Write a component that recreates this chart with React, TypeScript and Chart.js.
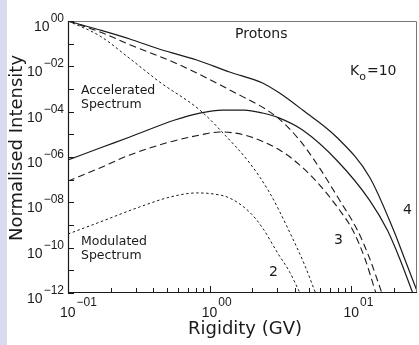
import React, { useEffect, useRef } from "react";
import { Chart, registerables } from "chart.js";
Chart.register(...registerables);

// Rigidity (GV) and normalised intensity
const acc4Rigidity = [0.1, 0.168, 0.273, 0.45, 0.81, 1.38, 2.36, 3.11, 4.52, 7.84, 13.4, 19.8, 23.6, 29.2];
const acc4Intensity = [1, 0.4, 0.16, 0.055, 0.0191, 5.6e-3, 1.85e-3, 6.6e-4, 1.18e-4, 7.6e-6, 1.32e-7, 6.0e-10, 3.5e-11, 1.1e-12];
const mod4Rigidity = [0.1, 0.168, 0.273, 0.567, 0.851, 1.23, 1.76, 2.36, 3.11, 4.52, 7.84, 13.4, 17.9, 21.8, 26.9];
const mod4Intensity = [7.4e-7, 2.5e-6, 7.6e-6, 4.3e-5, 8.7e-5, 1.18e-4, 1.18e-4, 8.7e-5, 5.2e-5, 1.55e-5, 7.4e-7, 1.26e-8, 6.0e-10, 3.5e-11, 1.1e-12];

const acc3Rigidity = [0.1, 0.168, 0.273, 0.615, 1.38, 2.97, 4.3, 5.95, 8.23, 11.0, 13.4, 16.3];
const acc3Intensity = [1, 0.33, 0.09, 0.0115, 9.1e-4, 5.8e-5, 5.6e-6, 3.3e-7, 1.26e-8, 6.0e-10, 3.5e-11, 1.1e-12];
const mod3Rigidity = [0.1, 0.168, 0.273, 0.523, 0.851, 1.18, 1.76, 3.11, 4.3, 5.95, 8.23, 10.2, 12.4, 14.8];
const mod3Intensity = [8.7e-8, 3.3e-7, 1.23e-6, 4.6e-6, 9.3e-6, 1.27e-5, 9.3e-6, 2.04e-6, 4.5e-7, 5.9e-8, 4.6e-9, 6.0e-10, 3.5e-11, 1.1e-12];

const acc2Rigidity = [0.1, 0.168, 0.273, 0.445, 0.851, 1.28, 1.91, 2.65, 3.66, 4.67, 5.58];
const acc2Intensity = [1, 0.218, 0.022, 2.0e-3, 1.18e-4, 9.3e-6, 5.5e-7, 2.6e-8, 4.9e-10, 1.74e-11, 1e-12];
const mod2Rigidity = [0.1, 0.168, 0.321, 0.523, 0.81, 1.08, 1.38, 1.91, 2.36, 3.01, 3.66, 4.3];
const mod2Intensity = [4.0e-10, 1.35e-9, 6.3e-9, 1.7e-8, 2.6e-8, 2.3e-8, 1.55e-8, 3.7e-9, 7.4e-10, 5.9e-11, 8.5e-12, 1.1e-12];

const yTickExponents = [0, -1, -2, -3, -4, -5, -6, -7, -8, -9, -10, -11, -12];
const yLabelExponents = [0, -2, -4, -6, -8, -10, -12];
const xLabelExponents = [-1, 0, 1];

const FONT = "'DejaVu Sans', sans-serif";
const TICKFONT = "'Liberation Sans', Arial, sans-serif";
const INK = "#1a1a1a";

function pts(xs: number[], ys: number[]) {
  return xs.map((x, i) => ({ x, y: ys[i] }));
}

function expText(e: number) {
  const a = Math.abs(e).toString().padStart(2, "0");
  return (e < 0 ? "\u2212" : "") + a;
}

const decorPlugin = {
  id: "decor",
  afterDraw(chart: any) {
    const { ctx, chartArea } = chart;
    const xs = chart.scales.x;
    const ys = chart.scales.y;
    const { left, right, top, bottom } = chartArea;
    ctx.save();
    // frame
    ctx.lineWidth = 1;
    ctx.strokeStyle = "#777";
    ctx.beginPath();
    ctx.moveTo(left, top + 0.5);
    ctx.lineTo(right - 0.5, top + 0.5);
    ctx.lineTo(right - 0.5, bottom);
    ctx.stroke();
    ctx.strokeStyle = INK;
    ctx.lineWidth = 1.2;
    ctx.beginPath();
    ctx.moveTo(left + 0.5, top);
    ctx.lineTo(left + 0.5, bottom - 0.5);
    ctx.lineTo(right, bottom - 0.5);
    ctx.stroke();
    // y ticks
    ctx.lineWidth = 1;
    ctx.beginPath();
    yTickExponents.forEach((e) => {
      const y = Math.round(ys.getPixelForValue(Math.pow(10, e))) + 0.5;
      ctx.moveTo(left, y);
      ctx.lineTo(left + 6, y);
    });
    // x ticks
    for (let d = -1; d <= 1; d++) {
      for (let m = 1; m <= 9; m++) {
        const v = m * Math.pow(10, d);
        if (v < xs.min || v > xs.max) continue;
        const x = Math.round(xs.getPixelForValue(v)) + 0.5;
        ctx.moveTo(x, bottom);
        ctx.lineTo(x, bottom - (m === 1 ? 7 : 5));
      }
    }
    ctx.stroke();
    // y labels
    ctx.fillStyle = INK;
    yLabelExponents.forEach((e) => {
      const y = ys.getPixelForValue(Math.pow(10, e));
      const sup = expText(e);
      ctx.font = `12px ${TICKFONT}`;
      const sw = ctx.measureText(sup).width;
      ctx.textAlign = "right";
      ctx.textBaseline = "alphabetic";
      ctx.fillText(sup, 64, y + 1);
      ctx.font = `14px ${TICKFONT}`;
      ctx.fillText("10", 64 - sw - 1, y + 10);
    });
    // x labels
    xLabelExponents.forEach((e) => {
      const x = xs.getPixelForValue(Math.pow(10, e));
      ctx.textAlign = "left";
      ctx.font = `14px ${TICKFONT}`;
      const w = ctx.measureText("10").width;
      const x0 = x - 8;
      ctx.fillText("10", x0, bottom + 24);
      ctx.font = `12px ${TICKFONT}`;
      ctx.fillText(expText(e), x0 + w + 1, bottom + 13);
    });
    // axis titles
    ctx.font = `18px ${FONT}`;
    ctx.textAlign = "center";
    ctx.fillText("Rigidity (GV)", 245, 334);
    ctx.save();
    ctx.translate(22, 148);
    ctx.rotate(-Math.PI / 2);
    ctx.fillText("Normalised Intensity", 0, 0);
    ctx.restore();
    // annotations
    ctx.textAlign = "left";
    ctx.font = `14px ${FONT}`;
    ctx.fillText("Protons", 235, 38);
    ctx.fillText("K", 350, 75);
    const kw = ctx.measureText("K").width;
    ctx.font = `11px ${FONT}`;
    ctx.fillText("o", 350 + kw, 80);
    const ow = ctx.measureText("o").width;
    ctx.font = `14px ${FONT}`;
    ctx.fillText("=10", 350 + kw + ow + 1, 75);
    ctx.font = `12.5px ${FONT}`;
    ctx.fillText("Accelerated", 81, 94);
    ctx.fillText("Spectrum", 81, 108);
    ctx.fillText("Modulated", 81, 245);
    ctx.fillText("Spectrum", 81, 259);
    ctx.font = `14px ${FONT}`;
    ctx.fillText("2", 269, 276);
    ctx.fillText("3", 334, 244);
    ctx.fillText("4", 403, 214);
    ctx.restore();
  },
};

export default function App() {
  const ref = useRef<HTMLCanvasElement | null>(null);
  useEffect(() => {
    document.body.style.margin = "0";
    const canvas = ref.current;
    if (!canvas) return;
    const solid = { borderColor: INK, borderWidth: 1.2, borderDash: [] as number[] };
    const longDash = { borderColor: INK, borderWidth: 1.1, borderDash: [7, 4] };
    const shortDash = { borderColor: INK, borderWidth: 1, borderDash: [2.5, 2.5] };
    const chart = new Chart(canvas, {
      type: "line",
      data: {
        datasets: [
          { label: "4 accelerated", data: pts(acc4Rigidity, acc4Intensity), ...solid },
          { label: "4 modulated", data: pts(mod4Rigidity, mod4Intensity), ...solid },
          { label: "3 accelerated", data: pts(acc3Rigidity, acc3Intensity), ...longDash },
          { label: "3 modulated", data: pts(mod3Rigidity, mod3Intensity), ...longDash },
          { label: "2 accelerated", data: pts(acc2Rigidity, acc2Intensity), ...shortDash },
          { label: "2 modulated", data: pts(mod2Rigidity, mod2Intensity), ...shortDash },
        ],
      },
      options: {
        responsive: false,
        animation: false,
        layout: { padding: { left: 68, right: 2, top: 21, bottom: 52 } },
        elements: {
          point: { radius: 0 },
          line: { cubicInterpolationMode: "monotone", fill: false },
        },
        plugins: { legend: { display: false }, tooltip: { enabled: false } },
        scales: {
          x: { type: "logarithmic", min: 0.1, max: 29, display: false },
          y: { type: "logarithmic", min: 1e-12, max: 1, display: false },
        },
      },
      plugins: [decorPlugin],
    } as any);
    return () => chart.destroy();
  }, []);
  return (
    <div style={{ position: "relative", width: 419, height: 345, background: "#fff" }}>
      <div style={{ position: "absolute", left: 0, top: 0, width: 7, height: 345, background: "#dadaf0" }} />
      <canvas ref={ref} width={419} height={345} style={{ position: "absolute", left: 0, top: 0 }} />
    </div>
  );
}
